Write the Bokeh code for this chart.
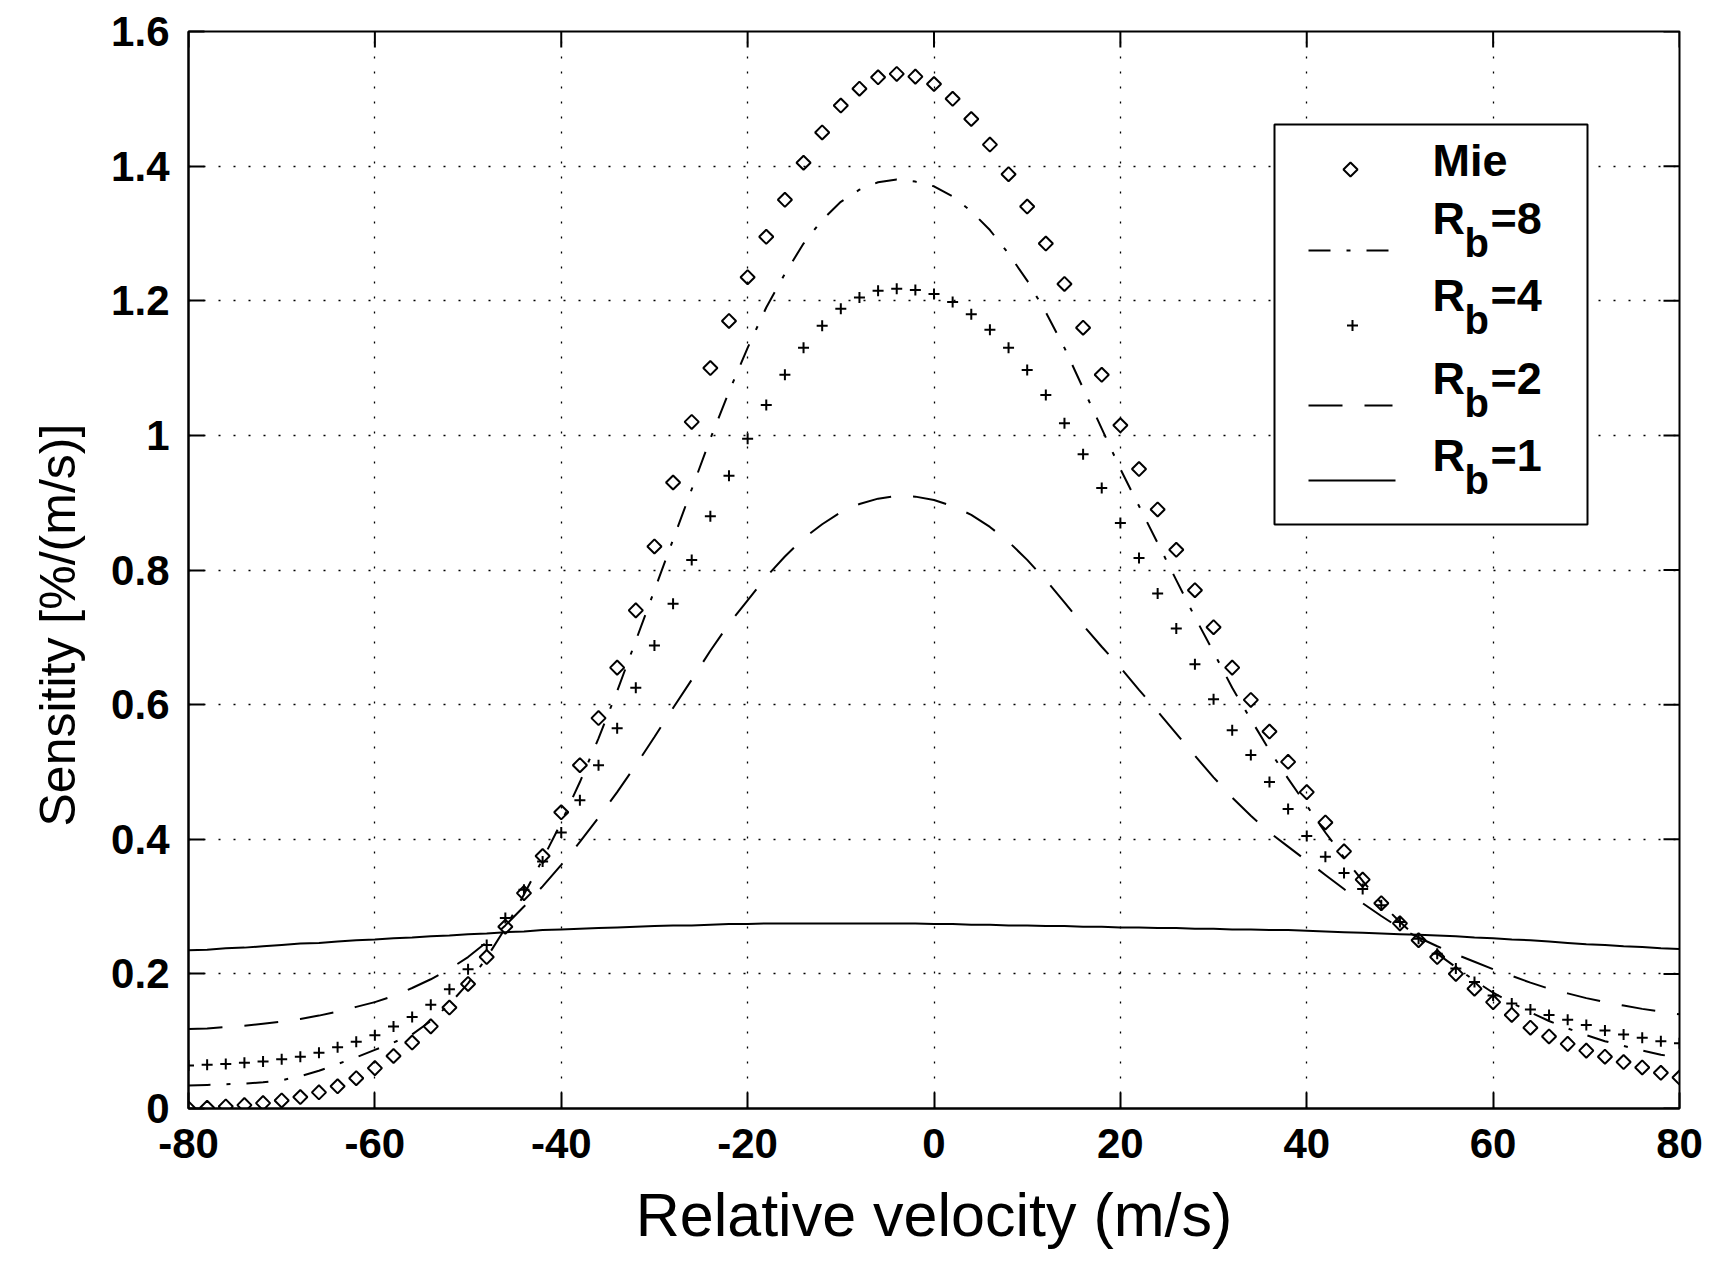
import math
from bokeh.plotting import figure
from bokeh.models import Range1d, FixedTicker, Title
from bokeh.core.properties import value
from bokeh.embed import file_html
from bokeh.resources import INLINE

# ---------------- data ----------------
VELOCITY = [-80, -78, -76, -74, -72, -70, -68, -66, -64, -62, -60, -58, -56, -54, -52, -50,
            -48, -46, -44, -42, -40, -38, -36, -34, -32, -30, -28, -26, -24, -22, -20, -18,
            -16, -14, -12, -10, -8, -6, -4, -2, 0, 2, 4, 6, 8, 10, 12, 14, 16, 18, 20, 22,
            24, 26, 28, 30, 32, 34, 36, 38, 40, 42, 44, 46, 48, 50, 52, 54, 56, 58, 60, 62,
            64, 66, 68, 70, 72, 74, 76, 78, 80]

MIE = [0.000, 0.001, 0.003, 0.005, 0.008, 0.012, 0.017, 0.024, 0.033, 0.045, 0.060, 0.078,
       0.098, 0.122, 0.150, 0.185, 0.225, 0.270, 0.320, 0.375, 0.440, 0.510, 0.580, 0.655,
       0.740, 0.835, 0.930, 1.020, 1.100, 1.170, 1.235, 1.295, 1.350, 1.405, 1.450, 1.490,
       1.515, 1.532, 1.537, 1.533, 1.522, 1.500, 1.470, 1.432, 1.388, 1.340, 1.285, 1.225,
       1.160, 1.090, 1.015, 0.950, 0.890, 0.830, 0.770, 0.715, 0.655, 0.607, 0.560, 0.515,
       0.470, 0.425, 0.382, 0.340, 0.305, 0.275, 0.250, 0.225, 0.200, 0.178, 0.158, 0.139,
       0.120, 0.107, 0.096, 0.086, 0.077, 0.069, 0.061, 0.053, 0.046]

RB8 = [0.034, 0.035, 0.036, 0.037, 0.039, 0.042, 0.048, 0.056, 0.066, 0.076, 0.087, 0.098,
       0.110, 0.130, 0.155, 0.186, 0.224, 0.268, 0.318, 0.370, 0.425, 0.485, 0.550, 0.620,
       0.695, 0.770, 0.845, 0.920, 0.995, 1.065, 1.130, 1.190, 1.240, 1.285, 1.320, 1.347,
       1.365, 1.376, 1.380, 1.377, 1.370, 1.355, 1.333, 1.305, 1.270, 1.230, 1.183, 1.130,
       1.070, 1.010, 0.950, 0.895, 0.840, 0.785, 0.730, 0.678, 0.625, 0.578, 0.532, 0.490,
       0.450, 0.410, 0.373, 0.338, 0.305, 0.277, 0.252, 0.230, 0.210, 0.190, 0.172, 0.157,
       0.143, 0.130, 0.119, 0.109, 0.100, 0.093, 0.086, 0.080, 0.075]

RB4 = [0.064, 0.065, 0.066, 0.068, 0.070, 0.073, 0.077, 0.083, 0.091, 0.099, 0.109, 0.122,
       0.136, 0.154, 0.177, 0.207, 0.243, 0.283, 0.325, 0.367, 0.410, 0.458, 0.510, 0.565,
       0.625, 0.688, 0.750, 0.815, 0.880, 0.940, 0.995, 1.045, 1.090, 1.130, 1.163, 1.188,
       1.205, 1.215, 1.218, 1.216, 1.210, 1.198, 1.180, 1.157, 1.130, 1.097, 1.060, 1.018,
       0.972, 0.922, 0.870, 0.818, 0.765, 0.713, 0.660, 0.608, 0.562, 0.525, 0.485, 0.445,
       0.405, 0.374, 0.350, 0.326, 0.302, 0.277, 0.252, 0.230, 0.208, 0.188, 0.168, 0.156,
       0.147, 0.139, 0.132, 0.124, 0.116, 0.110, 0.105, 0.100, 0.097]

RB2 = [0.118, 0.119, 0.121, 0.123, 0.126, 0.129, 0.133, 0.138, 0.144, 0.151, 0.158, 0.167,
       0.179, 0.192, 0.207, 0.225, 0.247, 0.272, 0.300, 0.330, 0.362, 0.396, 0.432, 0.470,
       0.510, 0.552, 0.595, 0.637, 0.680, 0.720, 0.755, 0.790, 0.820, 0.847, 0.868, 0.886,
       0.898, 0.906, 0.910, 0.909, 0.904, 0.895, 0.882, 0.864, 0.842, 0.815, 0.785, 0.752,
       0.718, 0.686, 0.655, 0.622, 0.590, 0.557, 0.524, 0.492, 0.462, 0.435, 0.410, 0.389,
       0.368, 0.347, 0.326, 0.305, 0.286, 0.268, 0.254, 0.241, 0.229, 0.218, 0.207, 0.197,
       0.187, 0.178, 0.171, 0.164, 0.158, 0.153, 0.148, 0.144, 0.140]

RB1 = [0.235, 0.236, 0.238, 0.239, 0.241, 0.243, 0.245, 0.246, 0.248, 0.250, 0.251, 0.253,
       0.254, 0.256, 0.257, 0.259, 0.260, 0.262, 0.263, 0.265, 0.266, 0.267, 0.268, 0.269,
       0.270, 0.271, 0.272, 0.272, 0.273, 0.274, 0.274, 0.275, 0.275, 0.275, 0.275, 0.275,
       0.275, 0.275, 0.275, 0.275, 0.274, 0.274, 0.273, 0.273, 0.272, 0.272, 0.271, 0.271,
       0.270, 0.270, 0.269, 0.269, 0.268, 0.268, 0.267, 0.267, 0.266, 0.266, 0.265, 0.265,
       0.264, 0.263, 0.262, 0.261, 0.260, 0.259, 0.258, 0.257, 0.256, 0.254, 0.253, 0.251,
       0.250, 0.248, 0.246, 0.244, 0.243, 0.241, 0.240, 0.238, 0.237]

X_TICKS = [-80, -60, -40, -20, 0, 20, 40, 60, 80]
X_TICK_LABELS = ["-80", "-60", "-40", "-20", "0", "20", "40", "60", "80"]
Y_TICKS = [0, 0.2, 0.4, 0.6, 0.8, 1.0, 1.2, 1.4, 1.6]
Y_TICK_LABELS = ["0", "0.2", "0.4", "0.6", "0.8", "1", "1.2", "1.4", "1.6"]

LEGEND_MAIN = "Mie"
LEGEND_SUFFIX = ["=8", "=4", "=2", "=1"]

X_TITLE = "Relative velocity (m/s)"
Y_TITLE = "Sensitity [%/(m/s)]"

# ---------------- layout / style ----------------
W, H = 1712, 1266
FL, FR, FT, FB = 188, 1679, 31, 1108
XMIN, XMAX, YMIN, YMAX = -80, 80, 0, 1.6
FONT = "Liberation Sans"
BLACK = "black"
TICK_LEN = 16

p = figure(width=W, height=H, output_backend="svg", toolbar_location=None,
           x_range=Range1d(XMIN, XMAX), y_range=Range1d(YMIN, YMAX),
           min_border_left=FL, min_border_right=W - FR,
           min_border_top=FT, min_border_bottom=H - FB)
p.background_fill_color = "white"
p.border_fill_color = "white"
p.outline_line_color = BLACK
p.outline_line_width = 2
p.outline_line_alpha = 1.0

xt = FixedTicker(ticks=X_TICKS)
yt = FixedTicker(ticks=Y_TICKS)


def style_axis(ax, ticker, labels, ticks):
    ax.ticker = ticker
    ax.major_label_overrides = {t: l for t, l in zip(ticks, labels)}
    ax.major_tick_in = TICK_LEN
    ax.major_tick_out = 0
    ax.minor_tick_in = 0
    ax.minor_tick_out = 0
    ax.major_tick_line_width = 2
    ax.major_tick_line_color = BLACK
    ax.axis_line_width = 2
    ax.axis_line_color = BLACK
    ax.major_label_text_font = FONT
    ax.major_label_text_font_size = "42px"
    ax.major_label_text_font_style = "bold"
    ax.major_label_text_color = BLACK


style_axis(p.xaxis[0], xt, X_TICK_LABELS, X_TICKS)
style_axis(p.yaxis[0], yt, Y_TICK_LABELS, Y_TICKS)
p.xaxis[0].major_label_standoff = 20
p.yaxis[0].major_label_standoff = 19

p.xaxis[0].axis_label = X_TITLE
p.xaxis[0].axis_label_text_font = FONT
p.xaxis[0].axis_label_text_font_size = "61px"
p.xaxis[0].axis_label_text_font_style = "normal"
p.xaxis[0].axis_label_text_color = BLACK
p.xaxis[0].axis_label_standoff = 20

# y-axis title: a side title, started a bit above the box bottom like the reference
ytitle = Title(text=Y_TITLE, align="left", offset=282, vertical_align="bottom",
               standoff=46, text_font=FONT, text_font_size="50px",
               text_font_style="normal", text_color=BLACK)
p.add_layout(ytitle, "left")

for g, tk in ((p.xgrid[0], xt), (p.ygrid[0], yt)):
    g.ticker = tk
    g.grid_line_color = BLACK
    g.grid_line_width = 1.3
    g.grid_line_dash = "2 13"
    g.grid_line_alpha = 1.0

# pixel <-> data helpers for layout items (ticks on the top/right box edges, legend)
PX_X = (FR - FL) / (XMAX - XMIN)
PX_Y = (FB - FT) / (YMAX - YMIN)


def vx(px):
    return XMIN + (px - FL) / PX_X


def sy(py):
    return YMIN + (FB - py) / PX_Y


# inward ticks on the top and right edges of the box
p.segment(x0=X_TICKS, x1=X_TICKS, y0=[YMAX] * len(X_TICKS),
          y1=[YMAX - TICK_LEN / PX_Y] * len(X_TICKS), line_color=BLACK, line_width=2)
p.segment(x0=[XMAX] * len(Y_TICKS), x1=[XMAX - TICK_LEN / PX_X] * len(Y_TICKS),
          y0=Y_TICKS, y1=Y_TICKS, line_color=BLACK, line_width=2)

DASH_RB8 = "22 16 4 16"
DASH_RB2 = "34 22"

# ---------------- curves ----------------
p.line(VELOCITY, RB1, line_color=BLACK, line_width=2)
p.line(VELOCITY, RB2, line_color=BLACK, line_width=2, line_dash=DASH_RB2)
p.line(VELOCITY, RB8, line_color=BLACK, line_width=2, line_dash=DASH_RB8)
p.scatter(VELOCITY, RB4, marker="cross", size=11, line_color=BLACK, line_width=2)
p.scatter(VELOCITY, MIE, marker="square", angle=math.pi / 4, size=10,
          fill_color=None, line_color=BLACK, line_width=2)

# ---------------- legend ----------------
p.quad(left=[vx(1274)], right=[vx(1587)], top=[sy(124)], bottom=[sy(524)],
       fill_color="white", line_color=BLACK, line_width=2)

p.scatter([vx(1350)], [sy(169)], marker="square", angle=math.pi / 4, size=10,
          fill_color=None, line_color=BLACK, line_width=2)
p.line([vx(1308), vx(1392)], [sy(250), sy(250)], line_color=BLACK, line_width=2,
       line_dash=DASH_RB8)
p.scatter([vx(1352)], [sy(325)], marker="cross", size=11, line_color=BLACK, line_width=2)
p.line([vx(1308), vx(1392)], [sy(405), sy(405)], line_color=BLACK, line_width=2,
       line_dash=DASH_RB2)
p.line([vx(1308), vx(1395)], [sy(480), sy(480)], line_color=BLACK, line_width=2)

base_y = [218, 295, 378, 455]
p.text(x=[vx(1432)], y=[sy(160)], text=[LEGEND_MAIN], text_font=value(FONT),
       text_font_size="45px", text_font_style="bold", text_color=BLACK,
       text_align="left", text_baseline="alphabetic")
p.text(x=[vx(1432)] * 4, y=[sy(b) for b in base_y], text=["R"] * 4, text_font=value(FONT),
       text_font_size="45px", text_font_style="bold", text_color=BLACK,
       text_align="left", text_baseline="alphabetic")
p.text(x=[vx(1464)] * 4, y=[sy(b + 24) for b in base_y], text=["b"] * 4, text_font=value(FONT),
       text_font_size="40px", text_font_style="bold", text_color=BLACK,
       text_align="left", text_baseline="alphabetic")
p.text(x=[vx(1490)] * 4, y=[sy(b) for b in base_y], text=LEGEND_SUFFIX, text_font=value(FONT),
       text_font_size="45px", text_font_style="bold", text_color=BLACK,
       text_align="left", text_baseline="alphabetic")

open("out.html", "w").write(file_html(p, INLINE))
